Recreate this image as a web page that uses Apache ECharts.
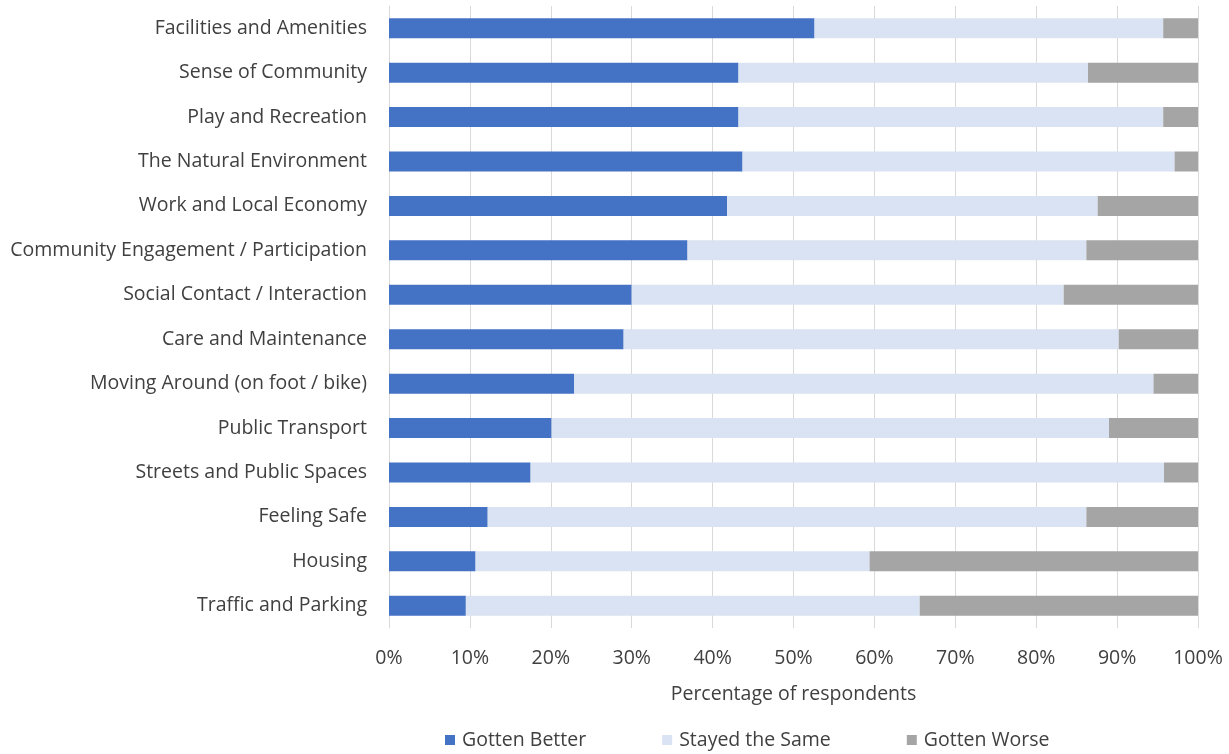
<!DOCTYPE html>
<html>
<head>
<meta charset="utf-8">
<script src="https://cdn.jsdelivr.net/npm/echarts@6/dist/echarts.min.js"></script>
<style>
html,body{margin:0;padding:0;background:#fff;}
#chart{width:1229px;height:754px;}
</style>
</head>
<body>
<div id="chart"></div>
<script>
const categories = [
  "Facilities and Amenities",
  "Sense of Community",
  "Play and Recreation",
  "The Natural Environment",
  "Work and Local Economy",
  "Community Engagement / Participation",
  "Social Contact / Interaction",
  "Care and Maintenance",
  "Moving Around (on foot / bike)",
  "Public Transport",
  "Streets and Public Spaces",
  "Feeling Safe",
  "Housing",
  "Traffic and Parking"
];
const gottenBetter = [52.6, 43.2, 43.2, 43.7, 41.8, 36.9, 30.0, 29.0, 22.9, 20.1, 17.5, 12.2, 10.7, 9.5];
const stayedSame   = [43.1, 43.2, 52.5, 53.4, 45.8, 49.3, 53.4, 61.2, 71.6, 68.9, 78.3, 74.0, 48.7, 56.1];
const gottenWorse  = [4.3, 13.6, 4.3, 2.9, 12.4, 13.8, 16.6, 9.8, 5.5, 11.0, 4.2, 13.8, 40.6, 34.4];
const xTicks = [0, 10, 20, 30, 40, 50, 60, 70, 80, 90, 100];
const seriesNames = ["Gotten Better", "Stayed the Same", "Gotten Worse"];

const font = "'Open Sans', sans-serif";
const txt = "#404040";
const fs = 19.5;
const chart = echarts.init(document.getElementById('chart'));
chart.setOption({
  animation: false,
  backgroundColor: '#ffffff',
  textStyle: { fontFamily: font },
  grid: { left: 389, right: 31, top: 6, bottom: 126, containLabel: false },
  legend: {
    data: seriesNames,
    bottom: -1,
    left: 440,
    itemWidth: 10,
    itemHeight: 10,
    itemGap: 76,
    icon: 'rect',
    textStyle: { fontFamily: font, fontSize: fs, color: txt, padding: [0, 0, 0, 2] }
  },
  xAxis: {
    type: 'value',
    min: 0,
    max: 100,
    interval: 10,
    name: 'Percentage of respondents',
    nameLocation: 'middle',
    nameGap: 56,
    nameTextStyle: { fontFamily: font, fontSize: fs, color: txt },
    axisLine: { show: false },
    axisTick: { show: false },
    axisLabel: { fontFamily: font, fontSize: fs, color: txt, margin: 20,
      formatter: v => xTicks.includes(v) ? v + '%' : '' },
    splitLine: { show: true, lineStyle: { color: '#d9d9d9', width: 1 } }
  },
  yAxis: {
    type: 'category',
    data: categories,
    inverse: true,
    axisLine: { show: true, lineStyle: { color: '#d9d9d9' } },
    axisTick: { show: false },
    axisLabel: { fontFamily: font, fontSize: fs, color: txt, margin: 22 }
  },
  series: [
    { name: seriesNames[0], type: 'bar', stack: 't', data: gottenBetter, barWidth: 20, itemStyle: { color: '#4472C4' } },
    { name: seriesNames[1], type: 'bar', stack: 't', data: stayedSame, barWidth: 20, itemStyle: { color: '#DAE3F3' } },
    { name: seriesNames[2], type: 'bar', stack: 't', data: gottenWorse, barWidth: 20, itemStyle: { color: '#A5A5A5' } }
  ]
});
</script>
</body>
</html>
